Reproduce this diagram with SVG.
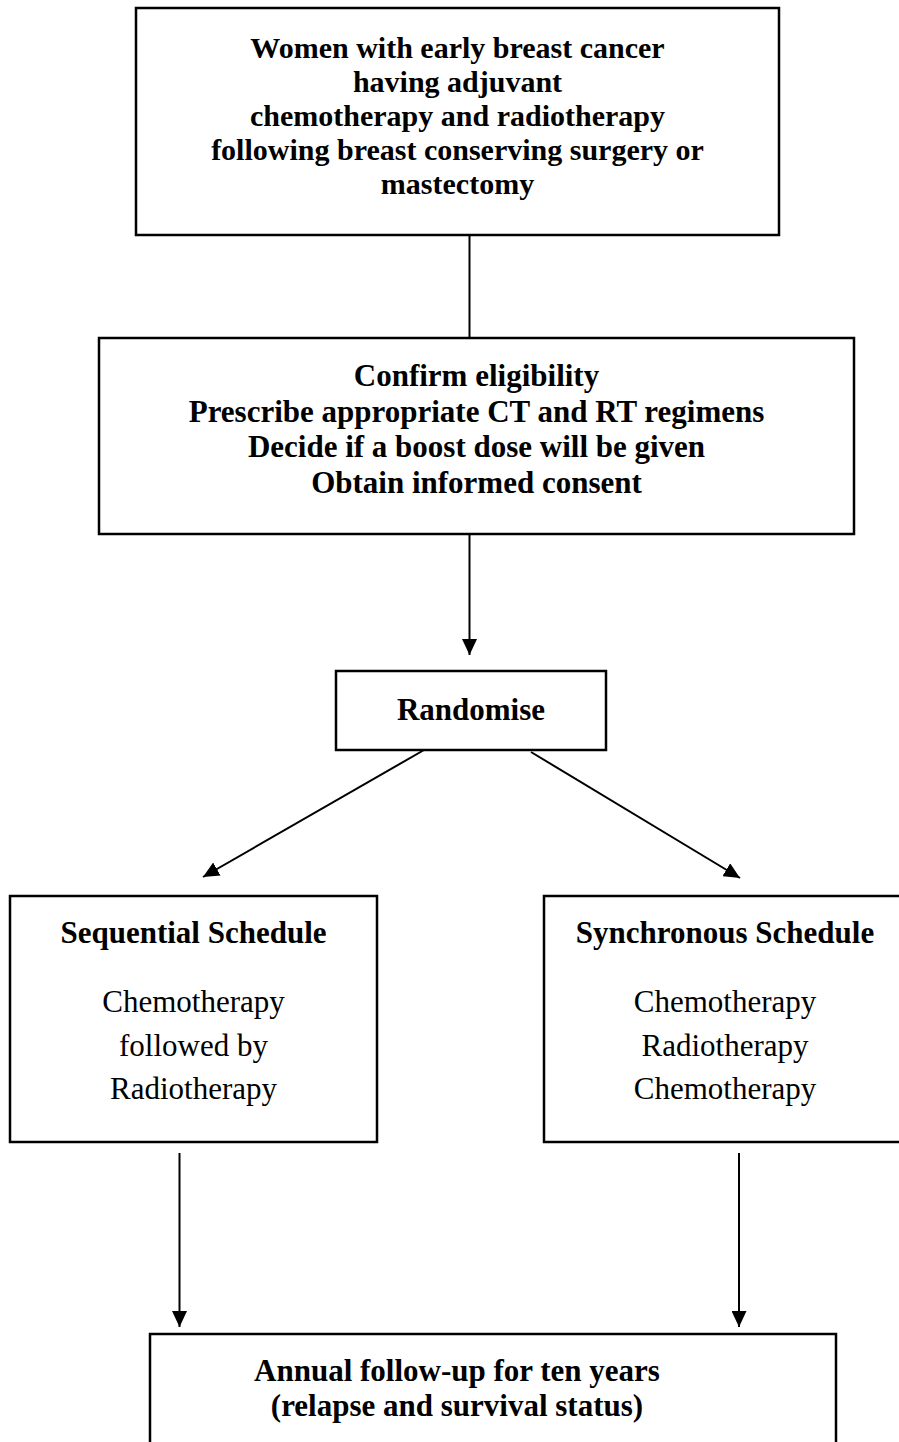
<svg xmlns="http://www.w3.org/2000/svg" width="899" height="1442" viewBox="0 0 899 1442">
  <style>
    .box { fill: #ffffff; stroke: #000000; stroke-width: 2.5; }
    .link { fill: none; stroke: #000000; stroke-width: 2; }
    .t { font-family: "Liberation Serif", "Times New Roman", serif; font-size: 31px; fill: #000000; text-anchor: middle; }
    .b { font-weight: bold; }
    .s { font-size: 30px; }
  </style>
  <defs>
    <marker id="arrow" markerUnits="userSpaceOnUse" markerWidth="16" markerHeight="15" refX="16" refY="7.5" orient="auto">
      <path d="M0,0 L16,7.5 L0,15 Z" fill="#000000"/>
    </marker>
  </defs>
  <rect width="899" height="1442" fill="#ffffff"/>

  <!-- connectors -->
  <g id="connectors">
    <line class="link" x1="469.5" y1="235" x2="469.5" y2="338"/>
    <line class="link" x1="469.5" y1="535" x2="469.5" y2="655" marker-end="url(#arrow)"/>
    <line class="link" x1="424" y1="750" x2="203" y2="877" marker-end="url(#arrow)"/>
    <line class="link" x1="531" y1="752" x2="740" y2="878" marker-end="url(#arrow)"/>
    <line class="link" x1="179.5" y1="1153" x2="179.5" y2="1327" marker-end="url(#arrow)"/>
    <line class="link" x1="739" y1="1153" x2="739" y2="1327" marker-end="url(#arrow)"/>
  </g>

  <g id="population">
    <rect class="box" x="136" y="8" width="643" height="227"/>
    <text class="t b s" x="457.5" y="58">Women with early breast cancer</text>
    <text class="t b s" x="457.5" y="92">having adjuvant</text>
    <text class="t b s" x="457.5" y="126">chemotherapy and radiotherapy</text>
    <text class="t b s" x="457.5" y="160">following breast conserving surgery or</text>
    <text class="t b s" x="457.5" y="194">mastectomy</text>
  </g>

  <g id="eligibility">
    <rect class="box" x="99" y="338" width="755" height="196"/>
    <text class="t b" x="476.5" y="386">Confirm eligibility</text>
    <text class="t b" x="476.5" y="422">Prescribe appropriate CT and RT regimens</text>
    <text class="t b" x="476.5" y="457">Decide if a boost dose will be given</text>
    <text class="t b" x="476.5" y="493">Obtain informed consent</text>
  </g>

  <g id="randomise">
    <rect class="box" x="336" y="671" width="270" height="79"/>
    <text class="t b" x="471" y="720">Randomise</text>
  </g>

  <g id="sequential">
    <rect class="box" x="10" y="896" width="367" height="246"/>
    <text class="t b" x="193.5" y="943">Sequential Schedule</text>
    <text class="t" x="193.5" y="1012">Chemotherapy</text>
    <text class="t" x="193.5" y="1056">followed by</text>
    <text class="t" x="193.5" y="1099">Radiotherapy</text>
  </g>

  <g id="synchronous">
    <rect class="box" x="544" y="896" width="362" height="246"/>
    <text class="t b" x="725" y="943">Synchronous Schedule</text>
    <text class="t" x="725" y="1012">Chemotherapy</text>
    <text class="t" x="725" y="1056">Radiotherapy</text>
    <text class="t" x="725" y="1099">Chemotherapy</text>
  </g>

  <g id="follow-up">
    <rect class="box" x="150" y="1334" width="686" height="130"/>
    <text class="t b" x="457" y="1381">Annual follow-up for ten years</text>
    <text class="t b" x="457" y="1416">(relapse and survival status)</text>
  </g>
</svg>
